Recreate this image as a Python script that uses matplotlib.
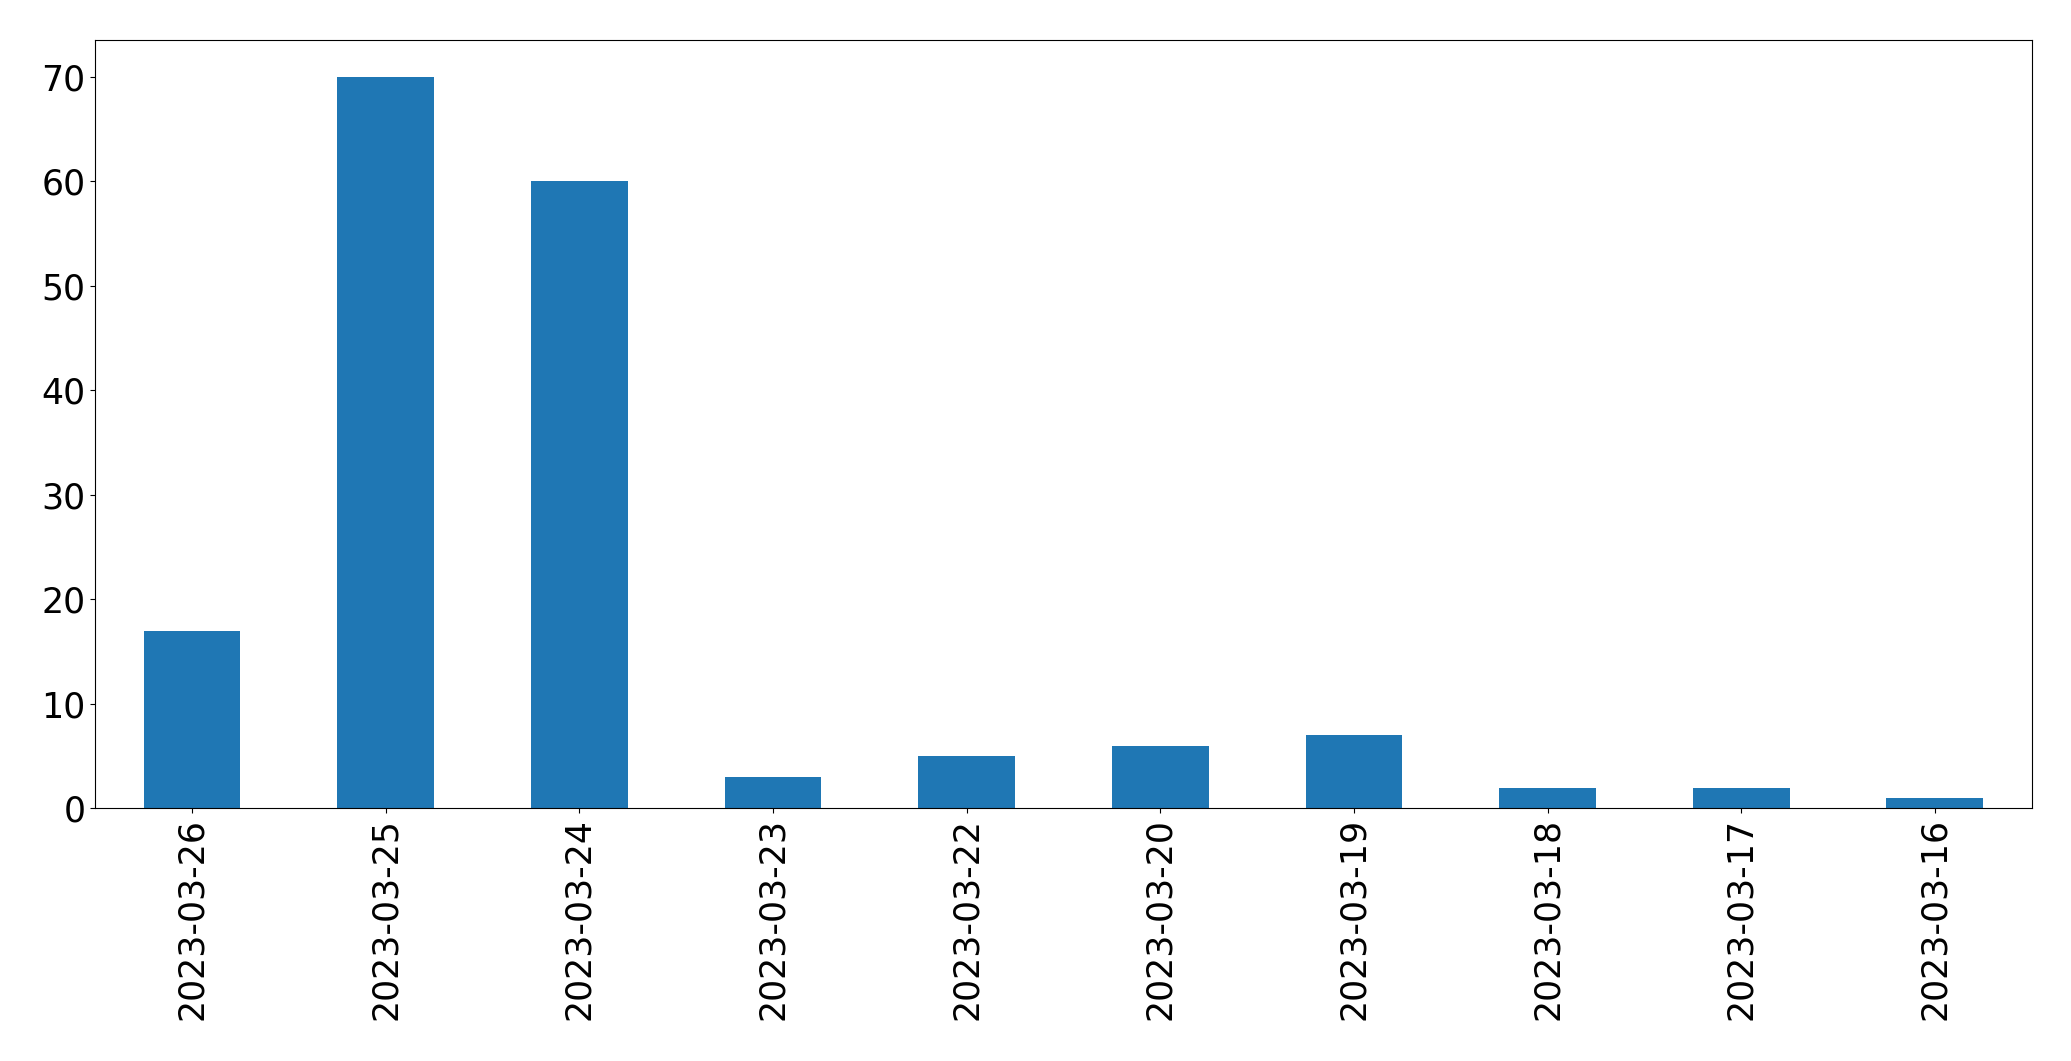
import matplotlib
matplotlib.use('Agg')
import matplotlib.pyplot as plt
import pandas as pd

dates = ['2023-03-26', '2023-03-25', '2023-03-24', '2023-03-23', '2023-03-22',
         '2023-03-20', '2023-03-19', '2023-03-18', '2023-03-17', '2023-03-16']
counts = [17, 70, 60, 3, 5, 6, 7, 2, 2, 1]

s = pd.Series(counts, index=dates)

fig, ax = plt.subplots(figsize=(20.71, 10.61), dpi=100)
s.plot(kind='bar', ax=ax, color='#1f77b4', fontsize=25)
ax.tick_params(labelsize=25)
fig.subplots_adjust(left=0.046, right=0.981, top=0.962, bottom=0.238)
fig.savefig('out.png', dpi=100)
